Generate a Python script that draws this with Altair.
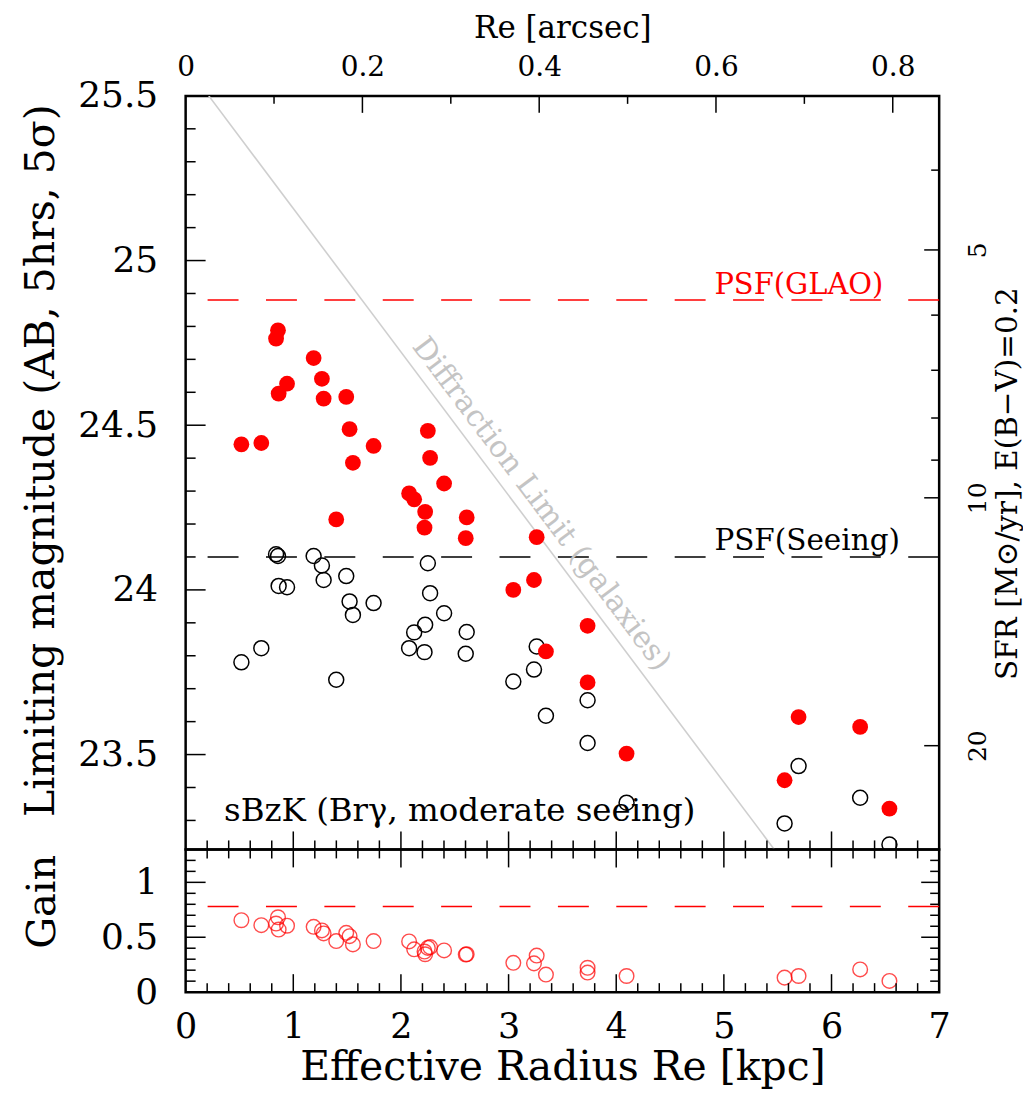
import altair as alt
import pandas as pd

# ---------------- data ----------------
re_kpc = [0.518, 0.703, 0.858, 0.840, 0.864, 0.942, 1.189, 1.266, 1.282, 1.399,
          1.492, 1.523, 1.554, 1.746, 2.076, 2.123, 2.225, 2.219, 2.250, 2.271,
          2.401, 2.611, 2.602, 3.044, 3.236, 3.261, 3.347, 3.734, 3.734, 4.096,
          5.564, 5.694, 6.266, 6.538]
mag_glao = [24.442, 24.446, 24.788, 24.763, 24.596, 24.626, 24.704, 24.641, 24.581, 24.214,
            24.586, 24.488, 24.386, 24.437, 24.293, 24.275, 24.237, 24.189, 24.483, 24.401,
            24.323, 24.220, 24.157, 24.000, 24.030, 24.160, 23.813, 23.891, 23.719, 23.503,
            23.422, 23.614, 23.584, 23.336]
mag_seeing = [23.780, 23.823, 24.103, 24.108, 24.012, 24.008, 24.103, 24.074, 24.030, 23.727,
              24.042, 23.965, 23.924, 23.960, 23.823, 23.871, 23.894, 23.811, 24.081, 23.990,
              23.929, 23.872, 23.806, 23.722, 23.758, 23.828, 23.618, 23.665, 23.535, 23.354,
              23.291, 23.465, 23.369, 23.227]
gain = [0.655, 0.610, 0.682, 0.625, 0.570, 0.605, 0.595, 0.562, 0.535, 0.465,
        0.540, 0.510, 0.435, 0.465, 0.462, 0.390, 0.345, 0.370, 0.403, 0.410,
        0.380, 0.345, 0.342, 0.267, 0.262, 0.333, 0.160, 0.222, 0.178, 0.147,
        0.132, 0.147, 0.207, 0.102]

psf_glao_mag = 24.88
psf_seeing_mag = 24.10
gain_ref = 0.78
diff_x = [0.215, 5.468]
diff_mag = [25.5, 23.212]

mag_labels = [23.5, 24, 24.5, 25, 25.5]
kpc_labels = [0, 1, 2, 3, 4, 5, 6, 7]
arc_labels = [0, 0.2, 0.4, 0.6, 0.8]
arc_minor = [0.1, 0.3, 0.5, 0.7]
sfr_major = [5, 10, 20]
sfr_minor = [4, 6, 7, 8, 9]
gain_labels = [0, 0.5, 1]

kpc_major_ticks = [1, 2, 3, 4, 5, 6]
kpc_minor_ticks = [round(0.2 * i, 1) for i in range(1, 35) if i % 5 != 0]
mag_major_ticks = [23.5, 24, 24.5, 25]
mag_minor_ticks = [round(23.3 + 0.1 * i, 1) for i in range(22) if (i + 3) % 5 != 0]
gain_major_ticks = [0.5, 1.0]
gain_minor_ticks = [0.1, 0.2, 0.3, 0.4, 0.6, 0.7, 0.8, 0.9, 1.1, 1.2]

# ---------------- layout constants ----------------
W, H1, H2 = 755, 755, 143
FONT = "DejaVu Serif"
X_DOM = [0, 7]
Y_DOM = [23.212, 25.5]
G_DOM = [0, 1.3]
ARC_DOM = [0, 0.8525]
SFR_DOM = [3.25, 26.73]
MAJ, MIN = 18, 9
FRAME = alt.ViewBackground(stroke="black", strokeWidth=2.5)


def xk():
    return alt.X("x:Q", scale=alt.Scale(domain=X_DOM, nice=False, zero=False), axis=None)


def ym():
    return alt.Y("y:Q", scale=alt.Scale(domain=Y_DOM, nice=False, zero=False),
                 axis=alt.Axis(values=mag_labels, format="~g", ticks=False, domain=False, grid=False,
                               labelFont=FONT, titleFont=FONT, titleFontWeight="normal",
                               labelFontSize=36, labelPadding=28, labelFlush=False, labelOverlap=False,
                               title="Limiting magnitude (AB, 5hrs, 5σ)", titleFontSize=41,
                               titleAngle=270, titleBaseline="alphabetic", titleX=-132, titleY=365))


def xb():
    return alt.X("x:Q", scale=alt.Scale(domain=X_DOM, nice=False, zero=False),
                 axis=alt.Axis(values=kpc_labels, format="d", ticks=False, domain=False, grid=False,
                               labelFont=FONT, titleFont=FONT, titleFontWeight="normal",
                               labelFontSize=35, labelPadding=17, labelFlush=False, labelOverlap=False,
                               title="Effective Radius Re [kpc]", titleFontSize=41,
                               titleBaseline="alphabetic", titleY=88))


def yg():
    return alt.Y("g:Q", scale=alt.Scale(domain=G_DOM, nice=False, zero=False),
                 axis=alt.Axis(values=gain_labels, format="~g", ticks=False, domain=False, grid=False,
                               labelFont=FONT, titleFont=FONT, titleFontWeight="normal",
                               labelFontSize=36, labelPadding=28, labelFlush=False, labelOverlap=False,
                               title="Gain", titleFontSize=40,
                               titleAngle=270, titleBaseline="alphabetic", titleX=-131, titleY=52))


def xa():
    return alt.X("a:Q", scale=alt.Scale(domain=ARC_DOM, nice=False, zero=False),
                 axis=alt.Axis(orient="top", values=arc_labels, format="~g", ticks=False, domain=False,
                               labelFont=FONT, titleFont=FONT, titleFontWeight="normal",
                               grid=False, labelFontSize=28, labelPadding=14, labelFlush=False,
                               labelOverlap=False, title="Re [arcsec]", titleFontSize=31,
                               titleBaseline="alphabetic", titleY=-58))


def ys():
    return alt.Y("s:Q", scale=alt.Scale(type="log", domain=SFR_DOM, reverse=True, nice=False),
                 axis=alt.Axis(orient="right", values=sfr_major, format="d", ticks=False, domain=False,
                               labelFont=FONT, titleFont=FONT, titleFontWeight="normal",
                               grid=False, labelFontSize=25, labelPadding=26, labelAngle=270,
                               labelAlign="center", labelBaseline="top", labelFlush=False,
                               labelOverlap=False, title="SFR [M⊙/yr], E(B−V)=0.2", titleFontSize=29.5,
                               titleAngle=270, titleBaseline="alphabetic", titleX=77, titleY=388))


# ---------------- main panel ----------------
glao_df = pd.DataFrame({"x": re_kpc, "y": mag_glao})
seeing_df = pd.DataFrame({"x": re_kpc, "y": mag_seeing})

diff_line = alt.Chart(pd.DataFrame({"x": diff_x, "y": diff_mag})).mark_line(
    color="#cfcfcf", strokeWidth=1.6, clip=True).encode(x=xk(), y=ym())

psf_glao = alt.Chart(pd.DataFrame({"y": [psf_glao_mag]})).mark_rule(
    color="red", strokeDash=[31, 27.5], strokeWidth=1.6).encode(y=ym())
psf_see = alt.Chart(pd.DataFrame({"y": [psf_seeing_mag]})).mark_rule(
    color="black", strokeDash=[31, 27.5], strokeWidth=1.6).encode(y=ym())

open_pts = alt.Chart(seeing_df).mark_point(
    shape="circle", filled=False, color="black", size=225, strokeWidth=1.5, opacity=1, clip=True
).encode(x=xk(), y=ym())
filled_pts = alt.Chart(glao_df).mark_circle(
    color="red", size=250, opacity=1, clip=True).encode(x=xk(), y=ym())

txt_glao = alt.Chart(pd.DataFrame({"x": [4.912], "y": [psf_glao_mag], "t": ["PSF(GLAO)"]})).mark_text(
    font=FONT, fontSize=29, color="red", align="left", baseline="alphabetic", dy=-6
).encode(x=xk(), y=ym(), text="t:N")
txt_see = alt.Chart(pd.DataFrame({"x": [4.912], "y": [psf_seeing_mag], "t": ["PSF(Seeing)"]})).mark_text(
    font=FONT, fontSize=29.5, color="black", align="left", baseline="alphabetic", dy=-7
).encode(x=xk(), y=ym(), text="t:N")
txt_sbzk = alt.Chart(pd.DataFrame({"x": [0.357], "y": [23.298], "t": ["sBzK (Brγ, moderate seeing)"]})).mark_text(
    font=FONT, fontSize=32.5, color="black", align="left", baseline="alphabetic"
).encode(x=xk(), y=ym(), text="t:N")
txt_diff = alt.Chart(pd.DataFrame({"x": [3.148], "y": [24.222], "t": ["Diffraction Limit (galaxies)"]})).mark_text(
    font=FONT, fontSize=30, color="#c4c4c4", align="center", baseline="middle", angle=53, dy=-21
).encode(x=xk(), y=ym(), text="t:N")

# inward ticks of the main panel
tk_b_maj = alt.Chart(pd.DataFrame({"x": kpc_major_ticks})).mark_rule(color="black", strokeWidth=1.5).encode(
    x=xk(), y=alt.value(H1), y2=alt.value(H1 - MAJ))
tk_b_min = alt.Chart(pd.DataFrame({"x": kpc_minor_ticks})).mark_rule(color="black", strokeWidth=1.5).encode(
    x=xk(), y=alt.value(H1), y2=alt.value(H1 - MIN))
tk_l_maj = alt.Chart(pd.DataFrame({"y": mag_major_ticks})).mark_rule(color="black", strokeWidth=1.5).encode(
    y=ym(), x=alt.value(0), x2=alt.value(MAJ + 2))
tk_l_min = alt.Chart(pd.DataFrame({"y": mag_minor_ticks})).mark_rule(color="black", strokeWidth=1.5).encode(
    y=ym(), x=alt.value(0), x2=alt.value(MIN + 1))

main = alt.layer(diff_line, psf_glao, psf_see, open_pts, filled_pts,
                 txt_glao, txt_see, txt_sbzk, txt_diff,
                 tk_b_maj, tk_b_min, tk_l_maj, tk_l_min)

# top arcsec axis
arc_maj = alt.Chart(pd.DataFrame({"a": arc_labels[1:]})).mark_rule(color="black", strokeWidth=1.5).encode(
    x=xa(), y=alt.value(0), y2=alt.value(17))
arc_min = alt.Chart(pd.DataFrame({"a": arc_minor})).mark_rule(color="black", strokeWidth=1.5).encode(
    x=xa(), y=alt.value(0), y2=alt.value(8))
top_grp = alt.layer(arc_maj, arc_min)

# right SFR axis
sfr_maj = alt.Chart(pd.DataFrame({"s": sfr_major})).mark_rule(color="black", strokeWidth=1.5).encode(
    y=ys(), x=alt.value(W), x2=alt.value(W - 15))
sfr_min = alt.Chart(pd.DataFrame({"s": sfr_minor})).mark_rule(color="black", strokeWidth=1.5).encode(
    y=ys(), x=alt.value(W), x2=alt.value(W - 8))
right_grp = alt.layer(sfr_maj, sfr_min)

upper = alt.layer(main, top_grp, right_grp).resolve_scale(
    x="independent", y="independent").properties(width=W, height=H1, view=FRAME)

# ---------------- gain panel ----------------
gain_df = pd.DataFrame({"x": re_kpc, "g": gain})
g_ref = alt.Chart(pd.DataFrame({"g": [gain_ref]})).mark_rule(
    color="red", strokeDash=[31, 27.5], strokeWidth=1.6).encode(y=yg())
g_pts = alt.Chart(gain_df).mark_point(
    shape="circle", filled=False, color="red", size=215, strokeWidth=1.4, opacity=0.7, clip=True
).encode(x=xb(), y=yg())

gb_maj = alt.Chart(pd.DataFrame({"x": kpc_major_ticks})).mark_rule(color="black", strokeWidth=1.5).encode(
    x=xb(), y=alt.value(H2), y2=alt.value(H2 - MAJ))
gb_min = alt.Chart(pd.DataFrame({"x": kpc_minor_ticks})).mark_rule(color="black", strokeWidth=1.5).encode(
    x=xb(), y=alt.value(H2), y2=alt.value(H2 - MIN))
gt_maj = alt.Chart(pd.DataFrame({"x": kpc_major_ticks})).mark_rule(color="black", strokeWidth=1.5).encode(
    x=xb(), y=alt.value(0), y2=alt.value(MAJ))
gt_min = alt.Chart(pd.DataFrame({"x": kpc_minor_ticks})).mark_rule(color="black", strokeWidth=1.5).encode(
    x=xb(), y=alt.value(0), y2=alt.value(MIN))
gl_maj = alt.Chart(pd.DataFrame({"g": gain_major_ticks})).mark_rule(color="black", strokeWidth=1.5).encode(
    y=yg(), x=alt.value(0), x2=alt.value(MAJ + 2))
gl_min = alt.Chart(pd.DataFrame({"g": gain_minor_ticks})).mark_rule(color="black", strokeWidth=1.5).encode(
    y=yg(), x=alt.value(0), x2=alt.value(MIN + 1))
gr_maj = alt.Chart(pd.DataFrame({"g": gain_major_ticks})).mark_rule(color="black", strokeWidth=1.5).encode(
    y=yg(), x=alt.value(W), x2=alt.value(W - MAJ))
gr_min = alt.Chart(pd.DataFrame({"g": gain_minor_ticks})).mark_rule(color="black", strokeWidth=1.5).encode(
    y=yg(), x=alt.value(W), x2=alt.value(W - MIN))

lower = alt.layer(g_ref, g_pts, gb_maj, gb_min, gt_maj, gt_min, gl_maj, gl_min, gr_maj, gr_min).properties(
    width=W, height=H2, view=FRAME)

chart = alt.vconcat(upper, lower, spacing=0, bounds="flush").properties(
    padding={"left": 19, "top": 10, "right": 0, "bottom": 5},
    background="white"
).configure_view(stroke="black", strokeWidth=2.5).configure_axis(
    labelFont=FONT, titleFont=FONT, labelColor="black", titleColor="black",
    titleFontWeight="normal", grid=False
)

chart.save("out.html", embed_options={"renderer": "svg", "actions": False})
